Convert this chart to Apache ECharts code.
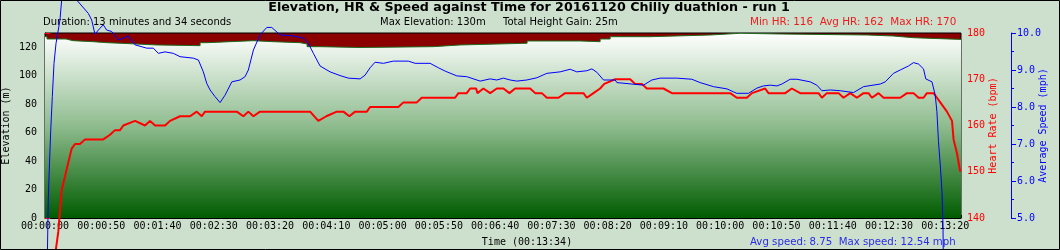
<!DOCTYPE html>
<html>
<head>
<meta charset="utf-8">
<script src="https://cdn.jsdelivr.net/npm/echarts@6/dist/echarts.min.js"></script>
<style>
html,body{margin:0;padding:0;background:#cde0cd;}
#chart{width:1060px;height:250px;}
</style>
</head>
<body>
<div id="chart"></div>
<script>
// ---- data (time in seconds) ----
const elevTime = [0, 1.8, 18.7, 24.9, 42.7, 55, 66.7, 99.6, 137.8, 144, 184.9, 202.7, 226.7, 232.9, 244, 280, 344.9, 368.9, 428.4, 475.6, 493.3, 502.2, 537.8, 591.1, 617.8, 653.3, 730.7, 753.8, 771.6, 814];
const elevValues = [127.4, 125.8, 124.6, 123.9, 123.2, 122.8, 121.6, 121.1, 123.2, 124.6, 123.9, 123.2, 122.3, 120.4, 119.8, 120.4, 121.6, 122.8, 124.4, 123.9, 125.8, 127.4, 128.6, 129.8, 129.3, 128.6, 127.9, 126.7, 125.5, 125.5];

const hrTime = [0, 11.8, 14.8, 17.8, 20.7, 23.7, 26.7, 31.1, 35.6, 51.8, 57.8, 62.2, 66.7, 69.6, 80, 88.9, 93.3, 97.8, 106.7, 111.1, 120, 128.9, 134.8, 139.3, 142.2, 170.4, 176.3, 180.7, 185.2, 191.1, 235.6, 242.9, 250, 259.3, 265.2, 270.5, 275.6, 286, 288.9, 314, 318.5, 330.4, 334.8, 364.4, 367.4, 374.8, 377.8, 383.1, 384.3, 389.6, 395.6, 401.5, 407.4, 412.7, 417.8, 431.1, 435.6, 441.5, 446, 456.3, 462.2, 478.5, 481.5, 487.4, 493.3, 497, 506.7, 520, 524.4, 530.4, 534.8, 549.6, 557.1, 608.9, 614.8, 623.7, 628.2, 640, 642.9, 657.8, 663.7, 671.1, 687.4, 690.4, 694.8, 705.2, 709.6, 715.6, 721.5, 727.4, 731.8, 734.8, 740.7, 745.2, 760, 766, 771.8, 776.3, 780.7, 783.7, 789.6, 792.6, 795.6, 801.5, 806, 807.4, 810.4, 813.3];
const hrValues = [116, 137, 146, 149, 152, 155, 156, 156, 157, 157, 158, 159, 159, 160, 161, 160, 161, 160, 160, 161, 162, 162, 163, 162, 163, 163, 162, 163, 162, 163, 163, 161, 162, 163, 163, 162, 163, 163, 164, 164, 165, 165, 166, 166, 167, 167, 168, 168, 167, 168, 167, 168, 168, 167, 168, 168, 167, 167, 166, 166, 167, 167, 166, 167, 168, 169, 170, 170, 169, 169, 168, 168, 167, 167, 166, 166, 167, 168, 167, 167, 168, 167, 167, 166, 167, 167, 166, 167, 166, 167, 167, 166, 167, 166, 166, 167, 167, 166, 166, 167, 167, 166, 165, 163, 161, 157, 154, 150];

const speedTime = [0, 2.9, 3.8, 5.1, 6.5, 8, 9.8, 11.8, 13.3, 14.8, 20, 28.2, 38.5, 41.5, 44.4, 48.9, 51.8, 54.8, 59.3, 65.2, 69.6, 74, 80, 90.4, 96.3, 100.7, 106.7, 114, 120, 131.8, 136.3, 140.7, 143.7, 146.7, 151.1, 155.6, 160, 166, 173.3, 177.8, 180.7, 185.2, 191.1, 197.1, 201.5, 208.9, 220.7, 229.6, 234, 238.5, 244.4, 253.3, 262.2, 269.6, 280, 284.4, 288.9, 293.3, 300.7, 309.6, 322.9, 328.9, 342.2, 349.6, 355.6, 366, 374.8, 386.7, 395.6, 401.5, 407.4, 413.3, 419.3, 428.2, 437.1, 446, 457.8, 466.7, 472.6, 481.5, 486, 490.4, 496.3, 506.7, 508.2, 531.8, 539.3, 546.7, 561.5, 574.8, 582.2, 594, 606, 611.8, 614.8, 625.2, 632.6, 638.5, 644.4, 650.4, 654.8, 662.2, 668.2, 680, 685.9, 690.4, 697.8, 706.7, 718.5, 727.4, 742.2, 746.7, 754, 760, 767.4, 771.8, 776.3, 780.7, 782.7, 788.2, 791.1, 792.6, 794, 795.6, 797.1, 798, 798.2, 800];
const speedValues = [0, 5.49, 6.3, 7.38, 8.28, 9.18, 9.72, 10.08, 10.35, 10.89, 12.54, 10.89, 10.53, 10.35, 9.97, 10.13, 10.22, 10.08, 10.04, 9.81, 9.86, 9.92, 9.68, 9.59, 9.59, 9.45, 9.49, 9.45, 9.36, 9.32, 9.27, 8.95, 8.64, 8.46, 8.28, 8.12, 8.32, 8.68, 8.73, 8.82, 9.0, 9.54, 9.95, 10.15, 10.15, 9.95, 9.92, 9.86, 9.72, 9.45, 9.11, 8.95, 8.85, 8.78, 8.76, 8.86, 9.06, 9.21, 9.18, 9.24, 9.24, 9.18, 9.18, 9.06, 8.97, 8.84, 8.82, 8.7, 8.76, 8.73, 8.78, 8.73, 8.7, 8.73, 8.79, 8.91, 8.95, 9.02, 8.95, 8.98, 9.03, 8.94, 8.73, 8.73, 8.66, 8.59, 8.73, 8.78, 8.78, 8.75, 8.66, 8.55, 8.49, 8.41, 8.37, 8.37, 8.51, 8.57, 8.59, 8.57, 8.62, 8.75, 8.75, 8.68, 8.59, 8.44, 8.46, 8.44, 8.39, 8.55, 8.62, 8.68, 8.91, 9.0, 9.11, 9.2, 9.16, 9.03, 8.76, 8.68, 8.32, 7.87, 7.06, 6.43, 5.71, 4.81, 4.14, 3.5];

const elevTickLabels = [0, 20, 40, 60, 80, 100, 120];

function zip(a, b) { return a.map((v, i) => [v, b[i]]); }
function pad(n) { return (n < 10 ? '0' : '') + n; }
function fmtTime(v) {
  const s = Math.round(v);
  return pad(Math.floor(s / 3600)) + ':' + pad(Math.floor((s % 3600) / 60)) + ':' + pad(s % 60);
}

const MONO = '"DejaVu Sans Mono", monospace';
const SANS = '"DejaVu Sans", sans-serif';
const RED = '#ff0000';
const BLUE = '#0000ff';

const chart = echarts.init(document.getElementById('chart'), null, { renderer: 'canvas' });
chart.setOption({
  backgroundColor: '#cde0cd',
  animation: false,
  grid: {
    left: 45, right: 99, top: 33, bottom: 32,
    show: true, backgroundColor: '#8b0000', borderColor: '#000', borderWidth: 1,
    outerBoundsMode: 'none'
  },
  xAxis: [
    {
      type: 'value', min: 0, max: 814, interval: 50,
      axisLine: { show: true, onZero: false, lineStyle: { color: '#000', width: 1 } },
      axisTick: { show: true, inside: true, length: 5, lineStyle: { color: '#000' } },
      axisLabel: { formatter: fmtTime, color: '#000', fontFamily: MONO, fontSize: 10, margin: 3, showMaxLabel: false },
      splitLine: { show: false }
    },
    {
      type: 'value', min: 0, max: 814, interval: 10, position: 'bottom',
      axisLine: { show: false },
      axisTick: { show: true, inside: true, length: 3, lineStyle: { color: '#000' } },
      axisLabel: { show: false },
      splitLine: { show: false }
    }
  ],
  yAxis: [
    {
      type: 'value', min: 0, max: 130, interval: 10, position: 'left',
      axisLine: { show: true, lineStyle: { color: '#000' } },
      axisTick: { show: true, inside: true, length: 4, lineStyle: { color: '#000' } },
      axisLabel: {
        formatter: v => (elevTickLabels.indexOf(v) >= 0 ? String(v) : ''),
        color: '#000', fontFamily: MONO, fontSize: 10, margin: 8
      },
      splitLine: { show: false },
      name: 'Elevation (m)', nameLocation: 'middle', nameGap: 34, nameMoveOverlap: false,
      nameTextStyle: { color: '#000', fontFamily: MONO, fontSize: 10 }
    },
    {
      type: 'value', min: 140, max: 180, interval: 10, position: 'right',
      axisLine: { show: false },
      axisTick: { show: true, inside: false, length: 5, lineStyle: { color: RED } },
      minorTick: { show: true, splitNumber: 2, length: 3, lineStyle: { color: RED } },
      axisLabel: { color: RED, fontFamily: MONO, fontSize: 10, margin: 6 },
      splitLine: { show: false },
      name: 'Heart Rate (bpm)', nameLocation: 'middle', nameGap: 27, nameMoveOverlap: false,
      nameTextStyle: { color: RED, fontFamily: MONO, fontSize: 10 }
    },
    {
      type: 'value', min: 5, max: 10, interval: 1, position: 'right', offset: 50,
      axisLine: { show: true, lineStyle: { color: BLUE } },
      axisTick: { show: true, inside: false, length: 5, lineStyle: { color: BLUE } },
      minorTick: { show: true, splitNumber: 2, length: 3, lineStyle: { color: BLUE } },
      axisLabel: { formatter: v => v.toFixed(1), color: BLUE, fontFamily: MONO, fontSize: 10, margin: 6 },
      splitLine: { show: false },
      name: 'Average Speed (mph)', nameLocation: 'middle', nameGap: 27, nameMoveOverlap: false,
      nameTextStyle: { color: BLUE, fontFamily: MONO, fontSize: 10 }
    }
  ],
  series: [
    {
      name: 'Elevation', type: 'line', xAxisIndex: 0, yAxisIndex: 0,
      data: zip(elevTime, elevValues), step: 'end', symbol: 'none',
      lineStyle: { color: '#1d6b1d', width: 1 },
      areaStyle: {
        opacity: 1,
        color: new echarts.graphic.LinearGradient(0, 0, 0, 1, [
          { offset: 0, color: '#ffffff' },
          { offset: 0.5, color: '#8fbc8f' },
          { offset: 1, color: '#005c00' }
        ])
      },
      z: 1
    },
    {
      name: 'Heart Rate', type: 'line', xAxisIndex: 0, yAxisIndex: 1,
      data: zip(hrTime, hrValues), symbol: 'none', clip: false,
      lineStyle: { color: RED, width: 2 }, z: 3
    },
    {
      name: 'Speed', type: 'line', xAxisIndex: 0, yAxisIndex: 2,
      data: zip(speedTime, speedValues), symbol: 'none', clip: false,
      lineStyle: { color: BLUE, width: 1 }, z: 4
    }
  ],
  graphic: [
    { type: 'text', z: 1, style: { text: 'Elevation, HR & Speed against Time for 20161120 Chilly duathlon - run 1', x: 529, y: 8, font: 'bold 12.7px ' + SANS, fill: '#000', textAlign: 'center', textVerticalAlign: 'middle' } },
    { type: 'text', z: 1, style: { text: 'Duration: 13 minutes and 34 seconds', x: 43, y: 22, font: '10px ' + SANS, fill: '#000', textAlign: 'left', textVerticalAlign: 'middle' } },
    { type: 'text', z: 1, style: { text: 'Max Elevation: 130m', x: 380, y: 22, font: '10px ' + SANS, fill: '#000', textAlign: 'left', textVerticalAlign: 'middle' } },
    { type: 'text', z: 1, style: { text: 'Total Height Gain: 25m', x: 503, y: 22, font: '10px ' + SANS, fill: '#000', textAlign: 'left', textVerticalAlign: 'middle' } },
    { type: 'text', z: 1, style: { text: 'Min HR: 116  Avg HR: 162  Max HR: 170', x: 750, y: 22, font: '10.4px ' + SANS, fill: '#ee1c1c', textAlign: 'left', textVerticalAlign: 'middle' } },
    { type: 'text', z: 1, style: { text: 'Time (00:13:34)', x: 527, y: 242, font: '10px ' + MONO, fill: '#000', textAlign: 'center', textVerticalAlign: 'middle' } },
    { type: 'text', z: 1, style: { text: 'Avg speed: 8.75  Max speed: 12.54 mph', x: 750, y: 242, font: '10.2px ' + SANS, fill: '#2b2be6', textAlign: 'left', textVerticalAlign: 'middle' } },
    { type: 'rect', z: 20, shape: { x: 0.5, y: 0.5, width: 1059, height: 249 }, style: { fill: 'none', stroke: '#000', lineWidth: 1 } }
  ]
});
</script>
</body>
</html>
